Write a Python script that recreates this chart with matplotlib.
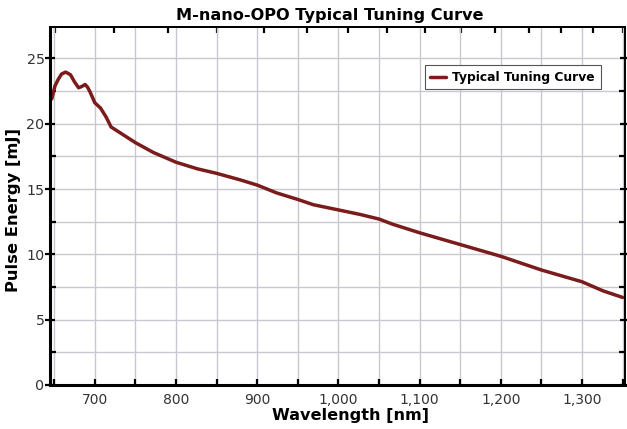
import matplotlib
matplotlib.use("Agg")
import matplotlib.pyplot as plt
from matplotlib.ticker import MultipleLocator, FuncFormatter
import numpy as np

# data
wavelength = [647, 651, 655, 659, 664, 670, 675, 680, 684, 688, 691, 694, 700, 707,
              714, 720, 735, 750, 772, 800, 826, 850, 879, 900, 924, 950, 969,
              1000, 1027, 1050, 1067, 1100, 1125, 1150, 1200, 1250, 1300, 1326, 1350]
energy = [21.9, 22.9, 23.4, 23.8, 23.95, 23.75, 23.2, 22.75, 22.85, 23.0, 22.8, 22.45,
          21.6, 21.2, 20.5, 19.75, 19.15, 18.55, 17.8, 17.05, 16.55, 16.2, 15.7, 15.3,
          14.7, 14.2, 13.8, 13.4, 13.05, 12.7, 12.3, 11.65, 11.2, 10.75, 9.85, 8.8,
          7.9, 7.2, 6.7]

# unlabelled ticks on the top axis (spaced in wavelength squared)
top_ticks = [4.24 + k for k in range(15)]

fig = plt.figure(figsize=(6.27, 4.29), dpi=100)
ax = fig.add_axes([0.08, 0.1026, 0.917, 0.8344])

ax.plot(wavelength, energy, color="#7b1c1c", lw=2.5, label="Typical Tuning Curve",
        solid_joinstyle="round", solid_capstyle="round")

ax.set_xlim(645, 1353)
ax.set_ylim(0, 27.4)
ax.xaxis.set_major_locator(MultipleLocator(100))
ax.xaxis.set_minor_locator(MultipleLocator(50))
ax.yaxis.set_major_locator(MultipleLocator(5))
ax.yaxis.set_minor_locator(MultipleLocator(2.5))
ax.xaxis.set_major_formatter(FuncFormatter(lambda v, p: f"{int(v):,}"))

ax.grid(True, which="both", color="#c8c8d0", lw=1.0)
ax.set_axisbelow(True)

for s in ["left", "bottom"]:
    ax.spines[s].set_linewidth(2.2)
for s in ["top", "right"]:
    ax.spines[s].set_linewidth(1.4)

ax.tick_params(axis="x", which="both", direction="in", length=4, width=1.6,
               labelsize=10, pad=6, labelcolor="#333333")
ax.tick_params(axis="y", which="major", direction="inout", length=7, width=1.6,
               labelsize=10.3, pad=0.5, labelcolor="#333333")
ax.tick_params(axis="y", which="minor", direction="in", length=4, width=1.6)
ax.tick_params(axis="y", which="both", right=True)

sec = ax.secondary_xaxis("top", functions=(lambda w: np.asarray(w, float) ** 2 / 1e5,
                                           lambda v: np.sqrt(np.clip(np.asarray(v, float), 0, None) * 1e5)))
sec.set_xticks(top_ticks)
sec.tick_params(direction="in", length=4, width=1.6, labeltop=False)
sec.spines["top"].set_linewidth(1.4)

ax.set_xlabel("Wavelength [nm]", fontsize=11.6, fontweight="bold")
ax.xaxis.set_label_coords(0.522, -0.065)
ax.set_ylabel("Pulse Energy [mJ]", fontsize=11.8, fontweight="bold")
ax.yaxis.set_label_coords(-0.051, 0.49)
ax.set_title("M-nano-OPO Typical Tuning Curve", fontsize=11.6, fontweight="bold",
             pad=5, x=0.487)

leg = ax.legend(loc="upper right", bbox_to_anchor=(0.968, 0.91), fancybox=False,
                edgecolor="#555555", prop={"weight": "bold", "size": 8.8},
                handlelength=1.3, handletextpad=0.5, borderpad=0.45, framealpha=1)
leg.get_frame().set_linewidth(0.8)

fig.savefig("out.png", dpi=100)
